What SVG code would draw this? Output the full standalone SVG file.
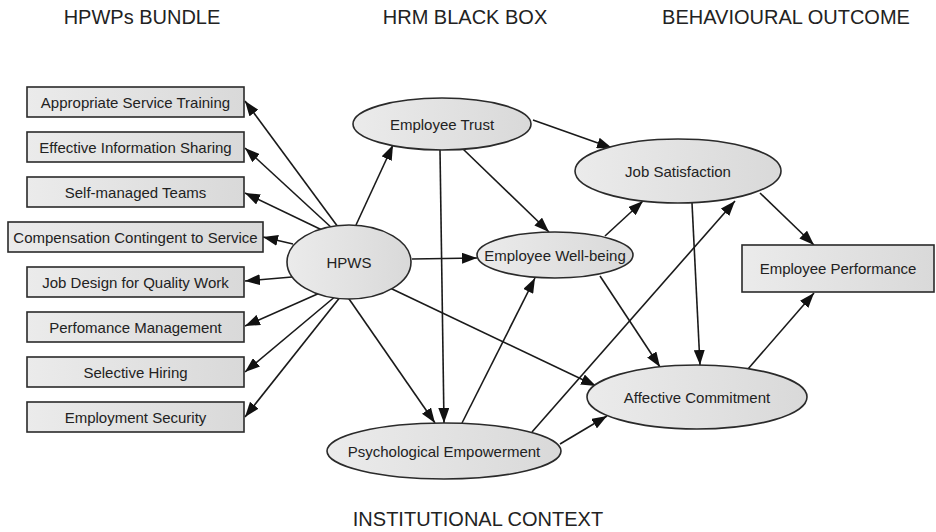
<svg xmlns="http://www.w3.org/2000/svg" width="936" height="532" viewBox="0 0 936 532">
<defs>
<linearGradient id="g" x1="0" y1="0" x2="1" y2="0">
<stop offset="0" stop-color="#ebebeb"/>
<stop offset="1" stop-color="#d9d9d9"/>
</linearGradient>
<marker id="ah" markerUnits="userSpaceOnUse" markerWidth="15" markerHeight="11" viewBox="0 0 15 11" refX="15" refY="5.5" orient="auto">
<path d="M0,0 L15,5.5 L0,11 z" fill="#111"/>
</marker>
<style>
.n{fill:url(#g);stroke:#2a2a2a;stroke-width:1.6}
.t{font-family:"Liberation Sans",Arial,sans-serif;font-size:15px;fill:#222;text-anchor:middle}
.h{font-family:"Liberation Sans",Arial,sans-serif;font-size:20px;fill:#222;text-anchor:middle}
.e line{stroke:#1a1a1a;stroke-width:1.6;marker-end:url(#ah)}
</style>
</defs>
<rect width="936" height="532" fill="#fff"/>
<g id="headers">
<text class="h" x="142" y="24">HPWPs BUNDLE</text>
<text class="h" x="465" y="24">HRM BLACK BOX</text>
<text class="h" x="786" y="24">BEHAVIOURAL OUTCOME</text>
<text class="h" x="478" y="526">INSTITUTIONAL CONTEXT</text>
</g>
<g id="connectors" class="e">
<line x1="338" y1="227" x2="245" y2="101"/>
<line x1="333" y1="229" x2="245" y2="148"/>
<line x1="322" y1="230" x2="245" y2="193"/>
<line x1="293" y1="244" x2="263" y2="237"/>
<line x1="292" y1="277" x2="245" y2="281"/>
<line x1="322" y1="292" x2="245" y2="326"/>
<line x1="337" y1="295" x2="245" y2="372"/>
<line x1="341" y1="296" x2="245" y2="417"/>
<line x1="356" y1="225" x2="393" y2="145"/>
<line x1="412" y1="259" x2="477" y2="258"/>
<line x1="347" y1="296" x2="435" y2="423"/>
<line x1="390" y1="288" x2="596" y2="386"/>
<line x1="440" y1="150" x2="444" y2="423"/>
<line x1="463" y1="149" x2="549" y2="232"/>
<line x1="533" y1="120" x2="612" y2="148"/>
<line x1="605" y1="236" x2="643" y2="201"/>
<line x1="600" y1="276" x2="660" y2="367"/>
<line x1="462" y1="423" x2="535" y2="278"/>
<line x1="532" y1="432" x2="735" y2="201"/>
<line x1="560" y1="444" x2="607" y2="416"/>
<line x1="692" y1="203" x2="700" y2="365"/>
<line x1="760" y1="193" x2="814" y2="245"/>
<line x1="748" y1="369" x2="814" y2="293"/>
</g>
<g id="n-training"><rect class="n" x="27" y="87" width="217" height="30"/><text class="t" x="135.5" y="107.5">Appropriate Service Training</text></g>
<g id="n-sharing"><rect class="n" x="27" y="132" width="217" height="30"/><text class="t" x="135.5" y="152.5">Effective Information Sharing</text></g>
<g id="n-teams"><rect class="n" x="27" y="177" width="217" height="30"/><text class="t" x="135.5" y="197.5">Self-managed Teams</text></g>
<g id="n-compensation"><rect class="n" x="8" y="222" width="255" height="30"/><text class="t" x="135.5" y="242.5">Compensation Contingent to Service</text></g>
<g id="n-jobdesign"><rect class="n" x="27" y="267" width="217" height="30"/><text class="t" x="135.5" y="287.5">Job Design for Quality Work</text></g>
<g id="n-performance-mgmt"><rect class="n" x="27" y="312" width="217" height="30"/><text class="t" x="135.5" y="332.5">Perfomance Management</text></g>
<g id="n-hiring"><rect class="n" x="27" y="357" width="217" height="30"/><text class="t" x="135.5" y="377.5">Selective Hiring</text></g>
<g id="n-security"><rect class="n" x="27" y="402" width="217" height="30"/><text class="t" x="135.5" y="422.5">Employment Security</text></g>
<g id="n-hpws"><ellipse class="n" cx="349" cy="262" rx="62" ry="37"/><text class="t" x="349" y="267.5">HPWS</text></g>
<g id="n-trust"><ellipse class="n" cx="442" cy="124" rx="89" ry="26"/><text class="t" x="442" y="129.5">Employee Trust</text></g>
<g id="n-wellbeing"><ellipse class="n" cx="555" cy="255" rx="78" ry="23"/><text class="t" x="555" y="260.5">Employee Well-being</text></g>
<g id="n-jobsat"><ellipse class="n" cx="678" cy="171" rx="103" ry="32"/><text class="t" x="678" y="176.5">Job Satisfaction</text></g>
<g id="n-empperf"><rect class="n" x="742" y="245" width="192" height="47"/><text class="t" x="838" y="274">Employee Performance</text></g>
<g id="n-affective"><ellipse class="n" cx="697" cy="397" rx="110" ry="32"/><text class="t" x="697" y="402.5">Affective Commitment</text></g>
<g id="n-psych"><ellipse class="n" cx="444" cy="451" rx="117" ry="28"/><text class="t" x="444" y="456.5">Psychological Empowerment</text></g>
</svg>
